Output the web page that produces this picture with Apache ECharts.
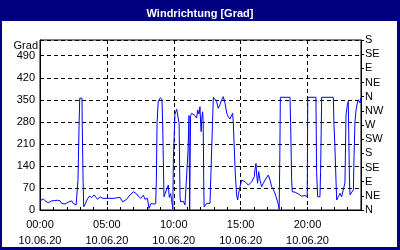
<!DOCTYPE html>
<html>
<head>
<meta charset="utf-8">
<script src="https://cdn.jsdelivr.net/npm/echarts@6/dist/echarts.min.js"></script>
<style>html,body{margin:0;padding:0;background:#000080}#c{width:400px;height:250px}</style>
</head>
<body>
<div id="c"></div>
<script>
var titleText = 'Windrichtung [Grad]';
var yUnit = 'Grad';
var dateText = '10.06.20';
var xTickLabels = ['00:00', '05:00', '10:00', '15:00', '20:00'];
var dirLabels = ['N', 'NE', 'E', 'SE', 'S', 'SW', 'W', 'NW', 'N', 'NE', 'E', 'SE', 'S'];
var hours = [0.00,0.25,0.45,0.62,0.87,1.10,1.30,1.50,1.62,1.87,2.12,2.25,2.37,2.50,2.70,2.82,2.84,2.92,2.97,3.14,3.16,3.22,3.27,3.37,3.55,3.70,3.87,4.05,4.30,4.50,4.70,5.00,5.50,5.98,6.18,6.48,6.73,6.98,7.23,7.35,7.53,7.73,7.85,8.03,8.15,8.30,8.50,8.65,8.70,8.75,8.84,9.00,9.12,9.17,9.27,9.39,9.50,9.59,9.67,9.77,9.84,9.93,9.97,10.09,10.22,10.34,10.40,10.47,10.51,10.71,10.84,10.96,11.07,11.14,11.19,11.26,11.34,11.46,11.59,11.71,11.79,11.89,11.96,12.01,12.05,12.10,12.16,12.20,12.24,12.27,12.46,12.59,12.71,12.84,12.90,12.96,13.08,13.20,13.33,13.45,13.58,13.70,13.83,13.96,14.08,14.20,14.33,14.40,14.45,14.53,14.60,14.70,14.78,14.83,14.90,14.95,15.08,15.33,15.45,15.58,15.70,15.83,15.95,16.02,16.07,16.15,16.20,16.27,16.35,16.45,16.57,16.70,16.82,16.95,17.07,17.20,17.32,17.45,17.57,17.65,17.75,17.82,17.88,17.93,17.97,18.69,18.74,18.81,18.86,19.06,19.31,19.56,19.81,19.98,20.02,20.63,20.68,20.76,20.93,20.98,21.06,21.93,21.98,22.05,22.13,22.18,22.30,22.43,22.55,22.68,22.80,22.88,22.98,23.05,23.10,23.14,23.18,23.30,23.43,23.48,23.55,23.63,23.73,23.80,23.93,24.00];
var degrees = [29,35,27,23,29,30,31,29,21,19,25,22,29,20,16,13,95,265,355,355,265,95,10,18,35,44,40,48,34,42,37,37,37,40,26,34,48,58,51,44,37,47,34,37,5,21,19,20,95,275,345,357,350,276,42,47,70,79,40,52,32,3,159,305,320,323,275,40,26,28,16,19,190,300,0,300,307,303,300,292,318,305,328,276,249,292,312,280,95,10,21,16,21,19,280,358,355,345,323,334,350,360,340,308,296,289,284,307,280,190,117,48,32,48,64,74,95,90,85,79,79,90,95,106,127,148,111,85,122,95,74,85,95,100,111,95,74,64,53,42,28,17,2,170,358,358,276,101,58,57,51,44,46,42,358,358,122,42,42,122,358,358,270,200,95,32,42,53,42,42,86,302,334,345,200,95,48,42,64,170,281,318,340,350,340,356];

var seriesData = hours.map(function (h, i) { return [h, degrees[i]]; });
var font = 'Liberation Sans';
var chart = echarts.init(document.getElementById('c'), null, {renderer: 'canvas'});
chart.setOption({
  animation: false,
  backgroundColor: '#ffffff',
  graphic: [
    {type: 'rect', shape: {x: 0, y: 0, width: 400, height: 21}, style: {fill: '#000080'}, silent: true},
    {type: 'rect', shape: {x: 0, y: 0, width: 2, height: 250}, style: {fill: '#000080'}, silent: true},
    {type: 'rect', shape: {x: 397, y: 0, width: 3, height: 250}, style: {fill: '#000080'}, silent: true},
    {type: 'rect', shape: {x: 0, y: 247, width: 400, height: 3}, style: {fill: '#000080'}, silent: true},
    {type: 'text', right: 362, top: 40, style: {text: yUnit, fill: '#000', font: '11px "' + font + '"', textAlign: 'right'}, silent: true}
  ],
  title: {
    text: titleText, left: 'center', top: 3,
    textStyle: {color: '#ffffff', fontWeight: 'bold', fontSize: 11, fontFamily: font}
  },
  grid: {left: 40, right: 39, top: 40, bottom: 40, show: true, borderColor: '#000', borderWidth: 1, backgroundColor: 'transparent'},
  xAxis: {
    type: 'value', min: 0, max: 24, interval: 5,
    axisLine: {show: true, lineStyle: {color: '#000', width: 1}},
    axisTick: {show: true, inside: true, length: 3, lineStyle: {color: '#000'}},
    minorTick: {show: true, splitNumber: 5, length: 3, lineStyle: {color: '#000'}},
    splitLine: {show: true, lineStyle: {color: '#000', type: [4, 3], width: 1}},
    axisLabel: {
      color: '#000', fontSize: 11, fontFamily: font, margin: 7, lineHeight: 16,
      showMaxLabel: false,
      formatter: function (v) {
        var idx = Math.round(v / 5);
        if (v % 5 !== 0 || idx >= xTickLabels.length) return '';
        return xTickLabels[idx] + '\n' + dateText;
      }
    }
  },
  yAxis: [
    {
      type: 'value', min: 0, max: 540, interval: 70, position: 'left',
      axisLine: {show: true, lineStyle: {color: '#000'}},
      axisTick: {show: false},
      splitLine: {show: true, lineStyle: {color: '#000', type: [4, 3], width: 1}},
      axisLabel: {
        color: '#000', fontSize: 11, fontFamily: font, margin: 5, showMaxLabel: false,
        formatter: function (v) { return v >= 540 ? '' : String(v); }
      }
    },
    {
      type: 'value', min: 0, max: 540, interval: 45, position: 'right',
      axisLine: {show: true, lineStyle: {color: '#000'}},
      axisTick: {show: true, length: 3, lineStyle: {color: '#000'}},
      splitLine: {show: false},
      axisLabel: {
        color: '#000', fontSize: 11, fontFamily: font, margin: 4,
        formatter: function (v) { return dirLabels[Math.round(v / 45)] || ''; }
      }
    }
  ],
  series: [{
    type: 'line', data: seriesData, yAxisIndex: 0, showSymbol: false, symbol: 'none',
    lineStyle: {color: '#0000ff', width: 1}, z: 3
  }]
});
</script>
</body>
</html>
